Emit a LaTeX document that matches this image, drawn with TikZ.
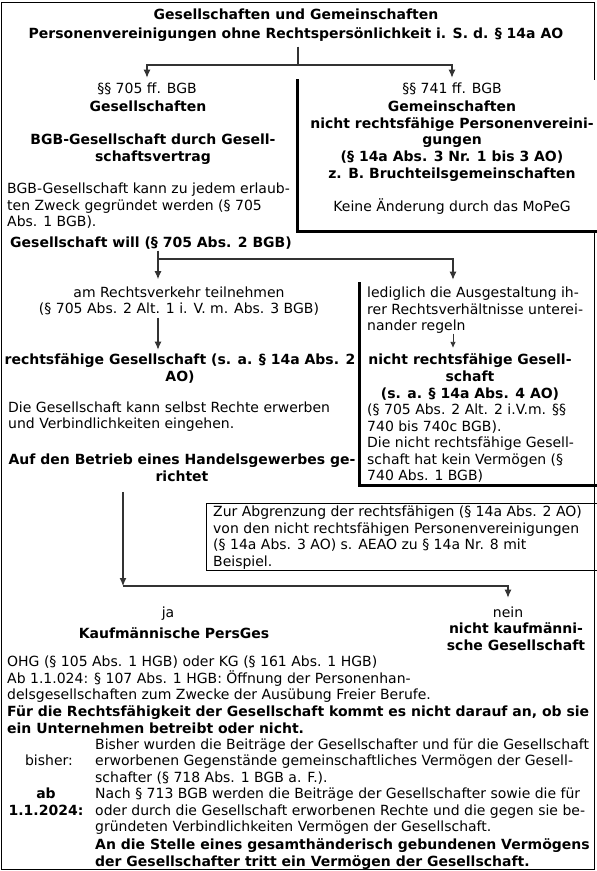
\documentclass[tikz,border=0pt]{standalone}
\usepackage{fontspec}
\setmainfont{DejaVu Sans}
\usetikzlibrary{arrows.meta}

\begin{document}
\begin{tikzpicture}[x=1pt,y=-1pt,>={Latex[length=8pt,width=7pt]},
        txt/.style={inner sep=0pt,font=\fontsize{14}{16.5}\selectfont},
        mid/.style={txt,align=center,anchor=base},
        lft/.style={txt,align=left,anchor=base west},
        bld/.style={font=\fontsize{14}{16.8}\selectfont\bfseries},
        conn/.style={draw=black!80,line width=1.1pt},
        heavy/.style={line width=3pt,line cap=rect}]
        % draw the frame and the boxes
        \useasboundingbox (0,0) rectangle (597,871);
        \draw[line width=0.8pt] (1,2) rectangle (594,869);
        \fill[white] (297,80) rectangle (597,231);
        \draw[heavy] (297,80) -- (297,231) -- (597,231);
        \draw[heavy] (359,283) -- (359,485) -- (597,485);
        \draw[line width=0.8pt] (206,503) rectangle (597,570);

        % the title (nodes sit on the baseline of their last line)
        \node[mid,bld] (title) at (296,38.5) {Gesellschaften und Gemeinschaften\\[2pt]Personenvereinigungen ohne Rechtspersönlichkeit i. S. d. § 14a AO};

        % left column: Gesellschaften
        \node[mid] (gesLaw) at (147,93.5) {§§ 705 ff. BGB};
        \node[mid,bld] (ges) at (148,111.5) {Gesellschaften};
        \node[mid,bld] (gbr) at (153,161.5) {BGB-Gesellschaft durch Gesell-\\schaftsvertrag};
        \node[lft] (zweck) at (7,226.5) {BGB-Gesellschaft kann zu jedem erlaub-\\ten Zweck gegründet werden (§ 705\\Abs. 1 BGB).};
        \node[lft,bld] (will) at (10,247.5) {Gesellschaft will (§ 705 Abs. 2 BGB)};

        % right box: Gemeinschaften
        \node[mid] (gemLaw) at (452,93.5) {§§ 741 ff. BGB};
        \node[mid,bld] (gem) at (452,178.5) {Gemeinschaften\\nicht rechtsfähige Personenvereini-\\gungen\\(§ 14a Abs. 3 Nr. 1 bis 3 AO)\\z. B. Bruchteilsgemeinschaften};
        \node[mid] (mopeg) at (452,211.5) {Keine Änderung durch das MoPeG};

        % second row
        \node[mid] (verkehr) at (179,313.5) {am Rechtsverkehr teilnehmen\\(§ 705 Abs. 2 Alt. 1 i. V. m. Abs. 3 BGB)};
        \node[mid,bld] (rf) at (180,381.5) {rechtsfähige Gesellschaft (s. a. § 14a Abs. 2\\AO)};
        \node[lft] (rechte) at (8,428.5) {Die Gesellschaft kann selbst Rechte erwerben\\und Verbindlichkeiten eingehen.};
        \node[mid,bld] (handel) at (182,481.5) {Auf den Betrieb eines Handelsgewerbes ge-\\richtet};

        % right box: nicht rechtsfaehige Gesellschaft
        \node[lft] (regeln) at (367,330.5) {lediglich die Ausgestaltung ih-\\rer Rechtsverhältnisse unterei-\\nander regeln};
        \node[mid,bld] (nrf) at (470,398.5) {nicht rechtsfähige Gesell-\\schaft\\(s. a. § 14a Abs. 4 AO)};
        \node[lft] (nrfText) at (367,480.5) {(§ 705 Abs. 2 Alt. 2 i.V.m. §§\\740 bis 740c BGB).\\Die nicht rechtsfähige Gesell-\\schaft hat kein Vermögen (§\\740 Abs. 1 BGB)};

        % the note box
        \node[lft] (abgr) at (213,566) {Zur Abgrenzung der rechtsfähigen (§ 14a Abs. 2 AO)\\von den nicht rechtsfähigen Personenvereinigungen\\(§ 14a Abs. 3 AO) s. AEAO zu § 14a Nr. 8 mit\\Beispiel.};

        % ja / nein
        \node[mid] (ja) at (168,617.5) {ja};
        \node[mid,bld] (kfm) at (174,638.5) {Kaufmännische PersGes};
        \node[mid] (nein) at (508,617.5) {nein};
        \node[mid,bld] (nkfm) at (516,650) {nicht kaufmänni-\\sche Gesellschaft};

        % the text at the bottom
        \node[lft] (ohg) at (7,699.5) {OHG (§ 105 Abs. 1 HGB) oder KG (§ 161 Abs. 1 HGB)\\Ab 1.1.024: § 107 Abs. 1 HGB: Öffnung der Personenhan-\\delsgesellschaften zum Zwecke der Ausübung Freier Berufe.};
        \node[lft,bld] (untern) at (7,733.5) {Für die Rechtsfähigkeit der Gesellschaft kommt es nicht darauf an, ob sie\\ein Unternehmen betreibt oder nicht.};
        \node[mid] (bisher) at (49,765.5) {bisher:};
        \node[lft] (bisherText) at (95,782) {Bisher wurden die Beiträge der Gesellschafter und für die Gesellschaft\\erworbenen Gegenstände gemeinschaftliches Vermögen der Gesell-\\schafter (§ 718 Abs. 1 BGB a. F.).};
        \node[mid,bld] (ab) at (46,815.5) {ab\\1.1.2024:};
        \node[lft] (abText) at (95,831.5) {Nach § 713 BGB werden die Beiträge der Gesellschafter sowie die für\\oder durch die Gesellschaft erworbenen Rechte und die gegen sie be-\\gründeten Verbindlichkeiten Vermögen der Gesellschaft.};
        \node[lft,bld] (abBold) at (95,866) {An die Stelle eines gesamthänderisch gebundenen Vermögens\\der Gesellschafter tritt ein Vermögen der Gesellschaft.};

        % the connectors
        \coordinate (split1) at (298,65);
        \coordinate (split2) at (158,259);
        \coordinate (split3) at (123,586);
        \coordinate (col2) at (453,0);
        \draw[conn,shorten <=5pt] (split1 |- title.south) -- (split1);
        \foreach \n in {gesLaw,gemLaw}
                \draw[conn,->,shorten >=5pt] (split1) -| (\n.north);
        \draw[conn,shorten <=1pt] (split2 |- will.south) -- (split2);
        \draw[conn,->,shorten >=7pt] (split2) -- (split2 |- verkehr.north);
        \draw[conn,->,shorten >=7pt] (split2) -| (col2 |- regeln.north);
        \draw[conn,->,shorten <=2pt,shorten >=4pt] (split2 |- verkehr.south) -- (split2 |- rf.north);
        \draw[conn,-{Latex[length=6pt,width=5.5pt]},line width=0.8pt,shorten >=6pt] (col2 |- regeln.south) -- (col2 |- nrf.north);
        \draw[conn,->,shorten <=10pt] (split3 |- handel.south) -- (split3);
        \draw[conn,->,shorten >=9pt] (split3) -| (nein.north);
\end{tikzpicture}
\end{document}
